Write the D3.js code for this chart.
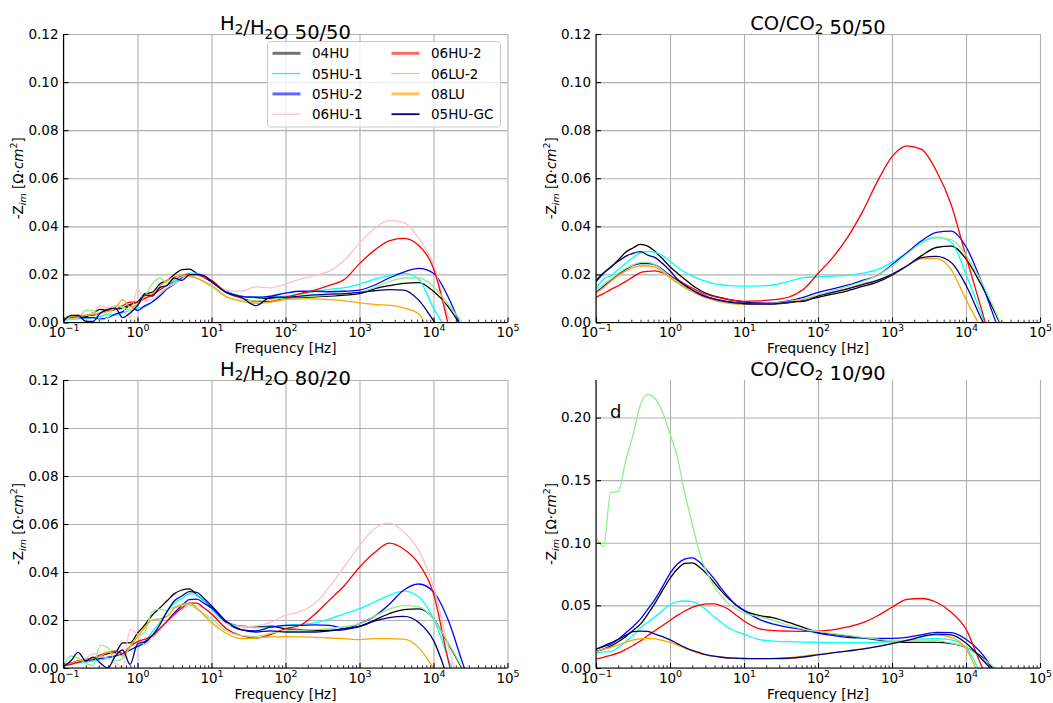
<!DOCTYPE html>
<html>
<head>
<meta charset="utf-8">
<script src="https://cdn.jsdelivr.net/npm/d3@7"></script>
<style>
  body { margin: 0; background: #fff; }
  svg { font-family: "DejaVu Sans", sans-serif; }
</style>
</head>
<body>
<svg id="chart" width="1053" height="703"></svg>
<script>
/* frequencies shared by every curve (Hz): fine steps below 10 Hz, coarser above */
var freq = [0.1, 0.126, 0.158, 0.2, 0.251, 0.316, 0.398, 0.501, 0.631, 0.794, 1, 1.26, 1.58, 2, 2.51, 3.16, 3.98, 5.01, 6.31, 7.94, 10,
            15.8, 25.1, 39.8, 63.1, 100, 158, 251, 398, 631, 1000, 1585, 2512, 3981, 6310, 10000, 15849, 25119, 39811];

var series = ["04HU", "05HU-1", "05HU-2", "06HU-1", "06HU-2", "06LU-2", "08LU", "05HU-GC"];
var colors = ["#000000", "#00ffff", "#0000ff", "#ffc0cb", "#ff0000", "#90ee90", "#ffa500", "#000080"];

/* -Zim per panel, one row per series (same order as `series`), null = no data */
var h2_5050 = [
  [0.0015, 0.0025, 0.003, 0.0025, 0.004, 0.0055, 0.005, 0.0055, 0.006, 0.0075, 0.0085, 0.012, 0.0125, 0.016, 0.0175, 0.020, 0.022, 0.0222, 0.0205, 0.019, 0.017,
   0.013, 0.011, 0.0104, 0.010, 0.0103, 0.0104, 0.0107, 0.011, 0.0114, 0.012, 0.014, 0.0153, 0.0163, 0.0166, 0.0130, 0.0065, -0.003, null],
  [0.001, 0.0012, 0.0015, 0.0018, 0.002, 0.0025, 0.0035, 0.003, 0.004, 0.005, 0.006, 0.0065, 0.0085, 0.012, 0.0145, 0.017, 0.019, 0.0205, 0.0205, 0.019, 0.017,
   0.013, 0.011, 0.0105, 0.0105, 0.011, 0.0118, 0.0128, 0.0138, 0.0145, 0.016, 0.018, 0.0195, 0.0205, 0.018, 0.006, -0.004, null, null],
  [0.0015, 0.002, 0.002, 0.002, 0.002, 0.0015, 0.002, 0.0035, 0.0045, 0.007, 0.005, 0.007, 0.0085, 0.011, 0.014, 0.016, 0.0185, 0.0198, 0.020, 0.0188, 0.017,
   0.0125, 0.0108, 0.0105, 0.011, 0.0122, 0.013, 0.013, 0.0128, 0.013, 0.0135, 0.0155, 0.0185, 0.021, 0.0225, 0.0205, 0.0105, -0.004, null],
  [0.002, 0.002, 0.0025, 0.003, 0.004, 0.007, 0.006, 0.007, 0.006, 0.002, 0.014, 0.009, 0.0095, 0.012, 0.0145, 0.016, 0.018, 0.0195, 0.0195, 0.019, 0.0175,
   0.0135, 0.013, 0.0148, 0.0144, 0.016, 0.018, 0.0195, 0.0215, 0.026, 0.033, 0.039, 0.0425, 0.0415, 0.035, 0.024, 0.0025, -0.006, null],
  [0.0015, 0.002, 0.0025, 0.003, 0.003, 0.004, 0.005, 0.0055, 0.007, 0.0085, 0.0085, 0.010, 0.0115, 0.0135, 0.0155, 0.0175, 0.0195, 0.020, 0.0198, 0.019, 0.0175,
   0.0125, 0.0102, 0.0088, 0.0088, 0.0104, 0.012, 0.0135, 0.0155, 0.018, 0.0245, 0.030, 0.034, 0.035, 0.032, 0.0225, -0.001, null, null],
  [0.002, 0.0015, 0.002, 0.005, 0.005, 0.001, 0.002, 0.007, 0.0065, 0.005, 0.0075, 0.011, 0.016, 0.0185, 0.0165, 0.0175, 0.019, 0.019, 0.0185, 0.017, 0.0149,
   0.0107, 0.0093, 0.009, 0.0096, 0.0104, 0.0107, 0.011, 0.0114, 0.012, 0.0125, 0.0145, 0.017, 0.0185, 0.0185, 0.015, 0.0075, -0.0005, null],
  [0.002, 0.0025, 0.003, 0.003, 0.0035, 0.004, 0.0045, 0.006, 0.0095, 0.0065, 0.0075, 0.011, 0.012, 0.015, 0.0175, 0.019, 0.0197, 0.0195, 0.0185, 0.017, 0.0155,
   0.0108, 0.0088, 0.008, 0.0085, 0.0095, 0.0098, 0.0098, 0.0095, 0.009, 0.0082, 0.0075, 0.0072, 0.006, 0.0035, -0.009, null, null, null],
  [0.0005, 0.003, 0.003, 0.0005, 0.0005, 0.004, 0.0055, 0.006, 0.002, 0.004, 0.007, 0.0115, 0.011, 0.0145, 0.0155, 0.0185, 0.0175, 0.0198, 0.020, 0.0195, 0.017,
   0.0125, 0.0105, 0.007, 0.0105, 0.0105, 0.011, 0.0115, 0.0118, 0.012, 0.0125, 0.0132, 0.0137, 0.0135, 0.0093, 0.0008, -0.008, null, null]
];

var co_5050 = [
  [0.017, 0.0205, 0.023, 0.026, 0.0292, 0.031, 0.0325, 0.0318, 0.0295, 0.0265, 0.0232, 0.0205, 0.018, 0.0155, 0.0135, 0.012, 0.011, 0.0102, 0.0095, 0.009, 0.0086,
   0.008, 0.0078, 0.0082, 0.0092, 0.0105, 0.0118, 0.0132, 0.015, 0.0168, 0.0197, 0.0235, 0.0278, 0.0312, 0.0318, 0.0265, 0.016, 0.0035, -0.01],
  [0.014, 0.018, 0.0195, 0.022, 0.0245, 0.027, 0.029, 0.0295, 0.0292, 0.0278, 0.0255, 0.023, 0.021, 0.0193, 0.018, 0.017, 0.0162, 0.0157, 0.0153, 0.0152, 0.0151,
   0.0152, 0.0157, 0.017, 0.0187, 0.019, 0.0193, 0.0196, 0.0205, 0.022, 0.025, 0.029, 0.0335, 0.0355, 0.0335, 0.020, 0.004, -0.012, null],
  [0.0125, 0.015, 0.0175, 0.02, 0.022, 0.0237, 0.0245, 0.0245, 0.024, 0.022, 0.0195, 0.0175, 0.0155, 0.0135, 0.012, 0.0108, 0.0098, 0.0092, 0.0087, 0.0083, 0.008,
   0.008, 0.0082, 0.009, 0.0105, 0.0125, 0.014, 0.0155, 0.0175, 0.0195, 0.024, 0.029, 0.034, 0.0375, 0.038, 0.0315, 0.0176, 0.0005, -0.015],
  [],
  [0.0105, 0.012, 0.0137, 0.0153, 0.017, 0.019, 0.0207, 0.0213, 0.0215, 0.0207, 0.0193, 0.0178, 0.016, 0.0143, 0.0128, 0.0117, 0.0108, 0.0101, 0.0095, 0.0091, 0.0088,
   0.009, 0.0095, 0.0105, 0.0137, 0.0204, 0.027, 0.0354, 0.046, 0.0585, 0.069, 0.0735, 0.072, 0.063, 0.049, 0.0274, 0.0065, -0.015, null],
  [0.0135, 0.016, 0.018, 0.0205, 0.0225, 0.024, 0.025, 0.025, 0.024, 0.0217, 0.019, 0.017, 0.015, 0.0133, 0.0118, 0.0105, 0.0095, 0.0088, 0.0083, 0.008, 0.0077,
   0.0077, 0.008, 0.0088, 0.0098, 0.0115, 0.0132, 0.015, 0.017, 0.0195, 0.0235, 0.0285, 0.033, 0.0352, 0.0345, 0.028, 0.0175, 0.0045, -0.01],
  [0.0122, 0.0145, 0.017, 0.0195, 0.0215, 0.0228, 0.0235, 0.0235, 0.023, 0.021, 0.0185, 0.0165, 0.0145, 0.0128, 0.0113, 0.0101, 0.0092, 0.0085, 0.008, 0.0077, 0.0075,
   0.0075, 0.0078, 0.0085, 0.0095, 0.011, 0.0125, 0.0142, 0.016, 0.0175, 0.02, 0.0235, 0.0265, 0.0267, 0.022, 0.0095, -0.002, null, null],
  [0.0175, 0.0205, 0.023, 0.0255, 0.0275, 0.0288, 0.0295, 0.028, 0.027, 0.0245, 0.0215, 0.018, 0.0155, 0.0135, 0.0118, 0.0106, 0.0097, 0.009, 0.0085, 0.0081, 0.0078,
   0.0077, 0.0077, 0.0085, 0.0088, 0.011, 0.0125, 0.014, 0.0158, 0.0175, 0.02, 0.0235, 0.027, 0.0275, 0.025, 0.0155, 0.002, -0.01, null]
];

var h2_8020 = [
  [0.001, 0.002, 0.003, 0.0035, 0.004, 0.005, 0.006, 0.0065, 0.0105, 0.0105, 0.0145, 0.018, 0.022, 0.025, 0.028, 0.031, 0.0325, 0.033, 0.0305, 0.028, 0.0254,
   0.0192, 0.0174, 0.0171, 0.0174, 0.0164, 0.016, 0.0157, 0.0157, 0.0164, 0.0174, 0.0199, 0.0226, 0.0243, 0.0246, 0.0206, 0.0101, -0.001, null],
  [0.001, 0.0015, 0.002, 0.0025, 0.003, 0.0035, 0.004, 0.005, 0.006, 0.0075, 0.009, 0.011, 0.015, 0.019, 0.0235, 0.027, 0.029, 0.031, 0.0305, 0.028, 0.0247,
   0.019, 0.0174, 0.0168, 0.017, 0.0178, 0.0182, 0.0188, 0.0205, 0.0226, 0.0247, 0.0275, 0.0303, 0.032, 0.0296, 0.0206, 0.004, -0.012, null],
  [0.0015, 0.002, 0.0025, 0.003, 0.0035, 0.004, 0.0045, 0.005, 0.006, 0.0075, 0.009, 0.0105, 0.013, 0.016, 0.0195, 0.023, 0.026, 0.0285, 0.0287, 0.027, 0.025,
   0.019, 0.016, 0.0155, 0.017, 0.0178, 0.0178, 0.018, 0.0178, 0.0165, 0.0185, 0.0215, 0.0265, 0.0325, 0.035, 0.0317, 0.0199, 0.0015, -0.015],
  [0.001, 0.0015, 0.0025, 0.004, 0.006, 0.005, 0.004, 0.002, 0.0005, 0.016, 0.014, 0.0095, 0.013, 0.016, 0.019, 0.022, 0.0245, 0.026, 0.026, 0.025, 0.023,
   0.0185, 0.0172, 0.0175, 0.019, 0.022, 0.0235, 0.027, 0.034, 0.0425, 0.051, 0.058, 0.0605, 0.0567, 0.049, 0.0338, 0.0088, -0.012, null],
  [0.001, 0.0015, 0.0025, 0.003, 0.004, 0.0055, 0.0065, 0.007, 0.006, 0.009, 0.011, 0.012, 0.0135, 0.0165, 0.0195, 0.0225, 0.025, 0.027, 0.027, 0.025, 0.0225,
   0.0165, 0.0135, 0.0125, 0.014, 0.0164, 0.0178, 0.0225, 0.0285, 0.0345, 0.042, 0.048, 0.052, 0.0495, 0.0435, 0.031, 0.003, -0.02, null],
  [0.001, 0.005, 0.004, 0.002, 0.001, 0.0095, 0.0085, 0.003, 0.004, 0.009, 0.013, 0.015, 0.0235, 0.0245, 0.024, 0.0255, 0.026, 0.0265, 0.0245, 0.0225, 0.0205,
   0.0155, 0.0135, 0.0132, 0.0145, 0.0155, 0.0158, 0.016, 0.0165, 0.0172, 0.0185, 0.0215, 0.0245, 0.026, 0.0255, 0.0205, 0.0105, -0.0005, null],
  [0.0015, 0.002, 0.003, 0.0035, 0.004, 0.005, 0.0065, 0.006, 0.005, 0.009, 0.013, 0.017, 0.02, 0.0205, 0.0215, 0.025, 0.0265, 0.027, 0.025, 0.022, 0.019,
   0.0145, 0.0122, 0.0125, 0.013, 0.0131, 0.013, 0.0128, 0.0125, 0.0122, 0.0118, 0.0122, 0.0122, 0.012, 0.0085, 0.0, -0.01, null, null],
  [0.0005, 0.003, 0.0065, 0.003, 0.0045, 0.002, 0.0, 0.005, 0.0075, 0.0015, 0.010, 0.011, 0.0135, 0.018, 0.0235, 0.028, 0.030, 0.0318, 0.0315, 0.029, 0.026,
   0.0195, 0.016, 0.015, 0.0155, 0.015, 0.015, 0.015, 0.0155, 0.016, 0.0172, 0.0195, 0.021, 0.0215, 0.019, 0.0115, -0.005, null, null]
];

var co_1090 = [
  [0.013, 0.015, 0.0175, 0.021, 0.025, 0.03, 0.035, 0.043, 0.052, 0.062, 0.0715, 0.079, 0.0835, 0.084, 0.0805, 0.075, 0.068, 0.061, 0.055, 0.05, 0.046,
   0.042, 0.04, 0.0365, 0.0325, 0.0285, 0.027, 0.0255, 0.024, 0.0225, 0.021, 0.0205, 0.0205, 0.0205, 0.0195, 0.0165, 0.0095, -0.003, null],
  [0.0116, 0.0128, 0.013, 0.0165, 0.021, 0.026, 0.032, 0.0365, 0.041, 0.046, 0.0505, 0.053, 0.0535, 0.053, 0.0505, 0.046, 0.0405, 0.036, 0.0317, 0.029, 0.027,
   0.0228, 0.0215, 0.021, 0.0207, 0.0205, 0.0203, 0.0203, 0.0203, 0.0205, 0.021, 0.022, 0.0232, 0.0235, 0.0225, 0.0165, -0.0055, null, null],
  [0.015, 0.017, 0.019, 0.023, 0.028, 0.033, 0.039, 0.047, 0.055, 0.065, 0.0755, 0.083, 0.087, 0.088, 0.0845, 0.078, 0.071, 0.063, 0.056, 0.05, 0.046,
   0.039, 0.035, 0.0325, 0.0305, 0.0278, 0.026, 0.0245, 0.024, 0.0237, 0.0237, 0.0245, 0.0265, 0.0285, 0.0283, 0.023, 0.0125, -0.004, null],
  [],
  [0.0072, 0.0085, 0.01, 0.012, 0.0148, 0.018, 0.0215, 0.026, 0.03, 0.034, 0.038, 0.042, 0.0455, 0.0485, 0.0502, 0.0512, 0.0512, 0.0495, 0.0465, 0.042, 0.0375,
   0.0315, 0.0298, 0.0295, 0.0293, 0.0295, 0.0305, 0.0328, 0.036, 0.0415, 0.0485, 0.0548, 0.0555, 0.0525, 0.0445, 0.031, 0.003, -0.02, null],
  [0.1045, 0.097, 0.14, 0.141, 0.165, 0.186, 0.21, 0.2185, 0.215, 0.204, 0.187, 0.168, 0.14, 0.115, 0.092, 0.076, 0.065, 0.057, 0.051, 0.047, 0.044,
   0.041, 0.038, 0.034, 0.031, 0.0293, 0.0275, 0.026, 0.0245, 0.023, 0.022, 0.022, 0.0222, 0.0218, 0.0198, 0.0165, 0.0085, 0.0, -0.01],
  [0.0129, 0.015, 0.0165, 0.0185, 0.0205, 0.0222, 0.0232, 0.0237, 0.0232, 0.022, 0.0205, 0.0183, 0.016, 0.0137, 0.0115, 0.0102, 0.0092, 0.0086, 0.008, 0.0078, 0.0076,
   0.0075, 0.0077, 0.0082, 0.0095, 0.0108, 0.0122, 0.0137, 0.0152, 0.0172, 0.0197, 0.0222, 0.025, 0.0262, 0.0245, 0.0155, -0.01, null, null],
  [0.015, 0.0175, 0.02, 0.0228, 0.026, 0.029, 0.0295, 0.0293, 0.027, 0.025, 0.0225, 0.0195, 0.0165, 0.014, 0.0122, 0.0105, 0.0094, 0.0086, 0.008, 0.0078, 0.0076,
   0.0075, 0.0075, 0.0078, 0.0088, 0.0105, 0.012, 0.0135, 0.015, 0.017, 0.0195, 0.022, 0.025, 0.027, 0.0265, 0.02, 0.008, -0.005, null]
];

var titles = ["H_2/H_2O 50/50", "CO/CO_2 50/50", "H_2/H_2O 80/20", "CO/CO_2 10/90"];
var xTicks = [0.1, 1, 10, 100, 1000, 10000, 100000];
var yTicksA = [0, 0.02, 0.04, 0.06, 0.08, 0.10, 0.12];
var yTicksB = [0, 0.05, 0.10, 0.15, 0.20];

/* legend handle look (thicker, faded lines for some entries) */
var legendWidth = [3, 1.3, 3, 1.3, 3, 1.3, 3, 1.8];
var legendAlpha = [0.55, 1, 0.6, 1, 0.6, 1, 0.65, 1];

var panels = [
  {data: h2_5050, title: titles[0], x0: 63.5, x1: 507.5, y0: 34, y1: 322.5, yMax: 0.12, ticks: yTicksA, legend: true},
  {data: co_5050, title: titles[1], x0: 596, x1: 1040, y0: 34, y1: 322.5, yMax: 0.12, ticks: yTicksA},
  {data: h2_8020, title: titles[2], x0: 63.5, x1: 507.5, y0: 380, y1: 668, yMax: 0.12, ticks: yTicksA},
  {data: co_1090, title: titles[3], x0: 596, x1: 1040, y0: 380, y1: 668, yMax: 0.23, ticks: yTicksB, tag: "d"}
];

var svg = d3.select("#chart");
var FS = 13.5;

/* tekst met _x subscript */
function richText(t, str, size, subSize, shift) {
  var parts = str.split(/(_.)/);
  parts.forEach(function(p) {
    if (p === "") return;
    if (p[0] === "_") {
      t.append("tspan").attr("font-size", subSize).attr("dy", shift).text(p[1]);
      t.append("tspan").attr("dy", -shift).attr("font-size", size).text("");
    } else {
      t.append("tspan").attr("font-size", size).text(p);
    }
  });
}

panels.forEach(function(p, pi) {
  var x = d3.scaleLog().domain([0.1, 1e5]).range([p.x0, p.x1]);
  var y = d3.scaleLinear().domain([0, p.yMax]).range([p.y1, p.y0]);
  var w = p.x1 - p.x0, h = p.y1 - p.y0;
  var g = svg.append("g");

  /* grid */
  var gridX = g.append("g").attr("transform", "translate(0," + p.y1 + ")")
    .call(d3.axisBottom(x).tickValues(xTicks).tickSize(-h).tickFormat(""));
  var gridY = g.append("g").attr("transform", "translate(" + p.x0 + ",0)")
    .call(d3.axisLeft(y).tickValues(p.ticks).tickSize(-w).tickFormat(""));
  [gridX, gridY].forEach(function(gg) {
    gg.select(".domain").remove();
    gg.selectAll("line").attr("stroke", "#b0b0b0").attr("stroke-width", 1.1);
  });

  /* lines */
  var clipId = "clip" + pi;
  g.append("clipPath").attr("id", clipId).append("rect")
    .attr("x", p.x0).attr("y", p.y0).attr("width", w).attr("height", h);

  var line = d3.line()
    .defined(function(d) { return d[1] != null; })
    .x(function(d) { return x(d[0]); })
    .y(function(d) { return y(d[1]); })
    .curve(d3.curveMonotoneX);

  var lines = g.append("g").attr("clip-path", "url(#" + clipId + ")");
  p.data.forEach(function(vals, si) {
    if (!vals.length) return;
    var pts = freq.map(function(f, i) { return [f, vals[i]]; });
    lines.append("path")
      .attr("d", line(pts))
      .attr("fill", "none")
      .attr("stroke", colors[si])
      .attr("stroke-width", 1.3)
      .attr("stroke-linejoin", "round");
  });

  /* x axis, ticks pointing inward */
  var ax = g.append("g").attr("transform", "translate(0," + p.y1 + ")")
    .call(d3.axisBottom(x).tickValues(xTicks).tickSize(-5).tickPadding(0));
  ax.attr("font-size", null).attr("font-family", null);
  ax.select(".domain").remove();
  ax.selectAll(".tick line").attr("stroke", "#000").attr("stroke-width", 1.1);
  ax.selectAll(".tick text").each(function(d) {
    var t = d3.select(this).text("").attr("y", 14.5).attr("dy", null).attr("fill", "#000");
    var e = Math.round(Math.log10(d));
    t.append("tspan").attr("font-size", FS).text("10");
    t.append("tspan").attr("font-size", 9.5).attr("dy", -6).text(e < 0 ? "\u2212" + (-e) : e);
  });

  /* minor ticks */
  var minors = [];
  for (var dec = -1; dec < 5; dec++) {
    for (var m = 2; m < 10; m++) minors.push(m * Math.pow(10, dec));
  }
  var mx = g.append("g").attr("transform", "translate(0," + p.y1 + ")")
    .call(d3.axisBottom(x).tickValues(minors).tickSize(-2.8).tickFormat(""));
  mx.select(".domain").remove();
  mx.selectAll(".tick line").attr("stroke", "#000").attr("stroke-width", 0.8);

  var ay = g.append("g").attr("transform", "translate(" + p.x0 + ",0)")
    .call(d3.axisLeft(y).tickValues(p.ticks).tickSize(-5).tickPadding(5).tickFormat(d3.format(".2f")));
  ay.attr("font-size", FS).attr("font-family", null);
  ay.select(".domain").remove();
  ay.selectAll(".tick line").attr("stroke", "#000").attr("stroke-width", 1.1);
  ay.selectAll(".tick text").attr("fill", "#000");

  /* spines left + bottom */
  g.append("line").attr("x1", p.x0).attr("x2", p.x0).attr("y1", p.y0).attr("y2", p.y1)
    .attr("stroke", "#000").attr("stroke-width", 1.1);
  g.append("line").attr("x1", p.x0).attr("x2", p.x1).attr("y1", p.y1).attr("y2", p.y1)
    .attr("stroke", "#000").attr("stroke-width", 1.1);

  /* title */
  var tt = g.append("text").attr("x", (p.x0 + p.x1) / 2).attr("y", p.y0 - 4.5)
    .attr("text-anchor", "middle").attr("fill", "#000");
  richText(tt, p.title, 19.5, 13.5, 4.5);

  /* axis labels */
  g.append("text").attr("x", (p.x0 + p.x1) / 2).attr("y", p.y1 + 30.5)
    .attr("text-anchor", "middle").attr("font-size", FS).text("Frequency [Hz]");

  var yl = g.append("text")
    .attr("transform", "translate(" + (p.x0 - 40.5) + "," + ((p.y0 + p.y1) / 2) + ") rotate(-90)")
    .attr("text-anchor", "middle").attr("font-size", FS);
  yl.append("tspan").text("-Z");
  yl.append("tspan").attr("font-size", 9.5).attr("font-style", "italic").attr("dy", 3).text("im");
  yl.append("tspan").attr("dy", -3).text(" [\u03a9\u00b7");
  yl.append("tspan").attr("font-style", "italic").text("cm");
  yl.append("tspan").attr("font-size", 9.5).attr("dy", -6).text("2");
  yl.append("tspan").attr("dy", 6).text("]");

  if (p.tag) {
    g.append("text").attr("x", p.x0 + 14).attr("y", p.y0 + 38)
      .attr("font-size", 18).text(p.tag);
  }

  /* legend */
  if (p.legend) {
    var lw = 233, lh = 85.5;
    var lx = p.x1 - 7 - lw, ly = p.y0 + 7.5;
    var lg = g.append("g");
    lg.append("rect").attr("x", lx).attr("y", ly).attr("width", lw).attr("height", lh)
      .attr("rx", 3).attr("fill", "#fff").attr("fill-opacity", 0.8)
      .attr("stroke", "#cccccc").attr("stroke-width", 1);
    series.forEach(function(name, i) {
      var col = Math.floor(i / 4), row = i % 4;
      var hx = lx + 5 + col * 119;
      var cy = ly + 11.8 + row * 20.3;
      lg.append("line").attr("x1", hx).attr("x2", hx + 28).attr("y1", cy).attr("y2", cy)
        .attr("stroke", colors[i]).attr("stroke-width", legendWidth[i])
        .attr("stroke-opacity", legendAlpha[i]);
      lg.append("text").attr("x", hx + 39.5).attr("y", cy + 5)
        .attr("font-size", FS).text(name);
    });
  }
});
</script>
</body>
</html>
